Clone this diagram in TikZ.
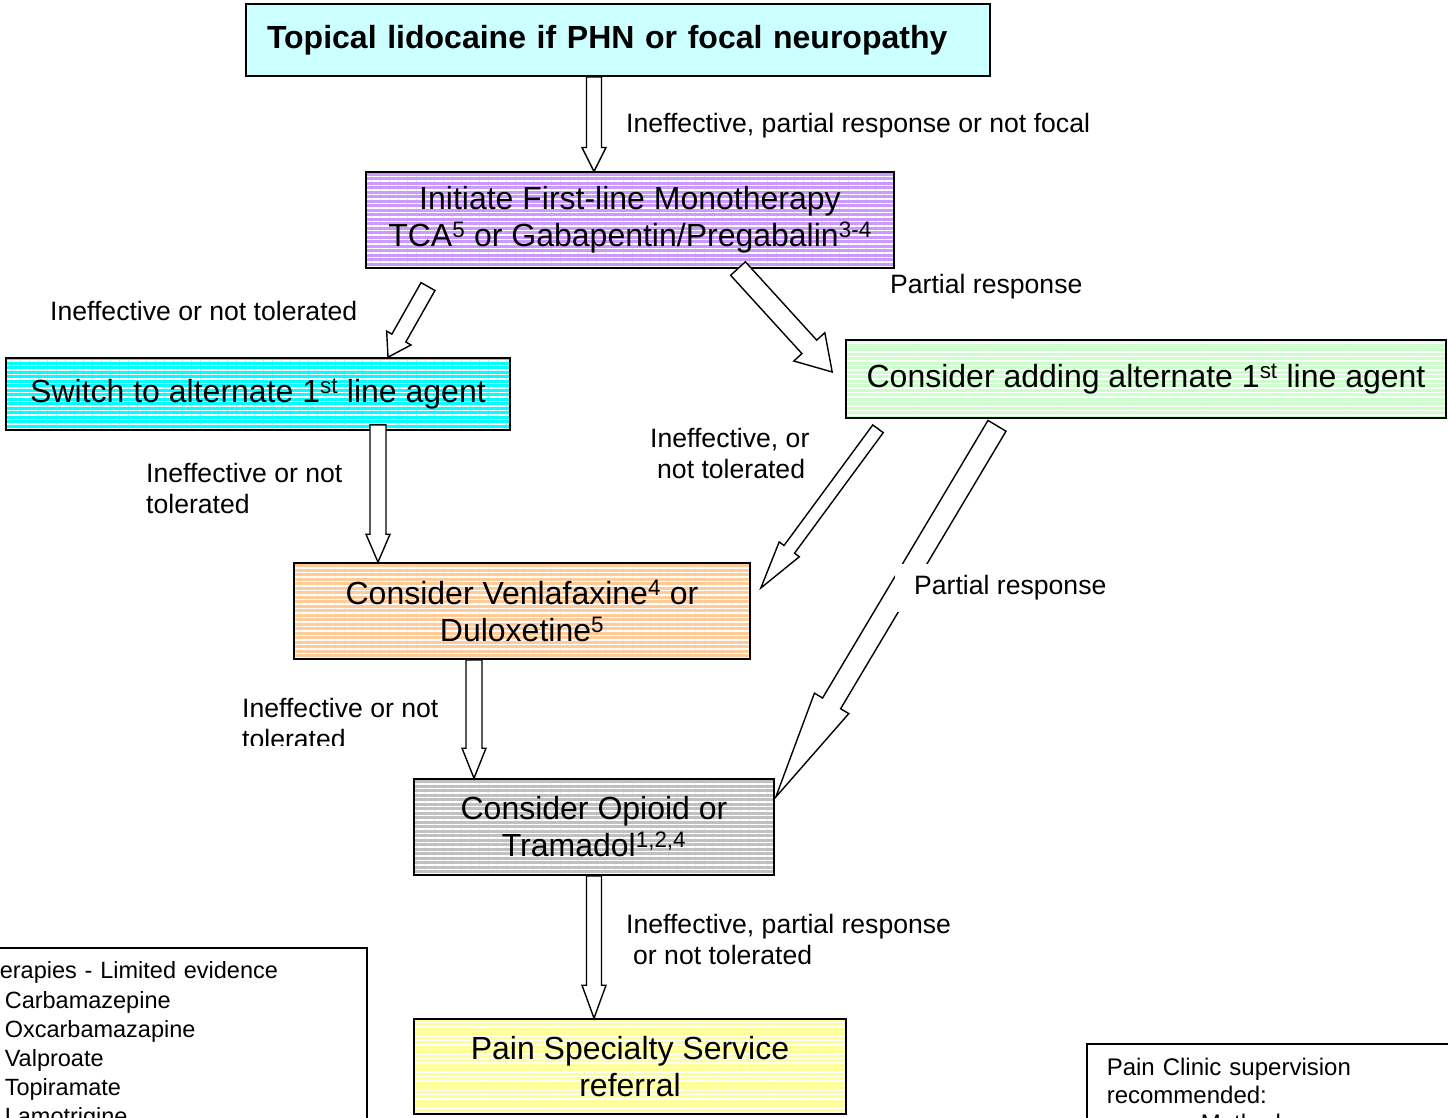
\documentclass[tikz,border=0pt]{standalone}
\usepackage{fontspec}
\setmainfont{Liberation Sans}
\usetikzlibrary{calc,patterns.meta}

\definecolor{lidocyan}{HTML}{CCFFFF}
\definecolor{purplefill}{HTML}{CC99FF}
\definecolor{switchcyan}{HTML}{00FFFF}
\definecolor{addgreen}{HTML}{CCFFCC}
\definecolor{venlaorange}{HTML}{FFCC99}
\definecolor{opioidgray}{HTML}{C0C0C0}
\definecolor{painyellow}{HTML}{FFFF99}

% block arrow: from, to, shaft half width, head half width, head length
\newcommand{\blockarrow}[5]{%
  \draw[block arrow] let \p1=#1, \p2=#2, \n1={atan2(\y2-\y1,\x2-\x1)}, \p3=($(\p2)!#5!(\p1)$) in
    ($(\p1)+(\n1+90:#3)$) -- ($(\p3)+(\n1+90:#3)$) -- ($(\p3)+(\n1+90:#4)$) -- (\p2)
    -- ($(\p3)+(\n1-90:#4)$) -- ($(\p3)+(\n1-90:#3)$) -- ($(\p1)+(\n1-90:#3)$) -- cycle;}

\begin{document}
\begin{tikzpicture}[x=1pt,y=-1pt,
    box font/.style={font=\fontsize{32}{37}\selectfont},
    stripebox/.style={draw, line width=1.6pt, preaction={fill=#1},
      pattern={Lines[angle=0,distance=4.5pt,line width=1.1pt]}, pattern color=white,
      align=center, inner sep=0pt, box font},
    notebox/.style={draw, line width=1.6pt, fill=white, align=left, anchor=north west},
    lbl/.style={font=\fontsize{26.6}{31}\selectfont, inner sep=0pt, anchor=west, align=left},
    block arrow/.style={draw=black, fill=white, line width=1.4pt, line join=miter}]

  \path[use as bounding box, fill=white] (0,0) rectangle (1448,1117);

  % boxes
  \node[draw, line width=1.6pt, fill=lidocyan, text width=702pt, inner xsep=21pt, inner ysep=0pt,
    minimum height=72pt, align=left, font=\fontsize{32}{37}\selectfont\bfseries] (lido) at (618,40)
    {Topical lidocaine if PHN or focal neuropathy};
  \node[stripebox=purplefill, minimum width=528pt, minimum height=96pt] (first) at (630,220)
    {Initiate First-line Monotherapy\\TCA\textsuperscript{5} or Gabapentin/Pregabalin\textsuperscript{3-4}};
  \node[stripebox=switchcyan, minimum width=504pt, minimum height=72pt] (switch) at (258,394)
    {Switch to alternate 1\textsuperscript{st} line agent};
  \node[stripebox=addgreen, minimum width=600pt, minimum height=78pt] (add) at (1146,379)
    {Consider adding alternate 1\textsuperscript{st} line agent};
  \node[stripebox=venlaorange, minimum width=456pt, minimum height=96pt] (venla) at (522,611)
    {Consider Venlafaxine\textsuperscript{4} or\\Duloxetine\textsuperscript{5}};
  \node[stripebox=opioidgray, minimum width=360pt, minimum height=96pt] (opioid) at (594,827)
    {Consider Opioid or\\Tramadol\textsuperscript{1,2,4}};
  \node[stripebox=painyellow, minimum width=432pt, minimum height=95pt] (pain) at (630,1066.5)
    {Pain Specialty Service\\referral};

  \node[notebox, text width=356pt, inner xsep=11pt, inner ysep=14pt,
    font=\fontsize{23.5}{29.2}\selectfont] (other) at (-12,947)
    {erapies - Limited evidence\\
     \hspace*{5pt}Carbamazepine\\
     \hspace*{5pt}Oxcarbamazapine\\
     \hspace*{5pt}Valproate\\
     \hspace*{5pt}Topiramate\\
     \hspace*{5pt}Lamotrigine};
  \node[notebox, text width=340pt, inner xsep=20pt, inner ysep=14.5pt,
    font=\fontsize{24}{28}\selectfont] (clinic) at (1086,1043)
    {Pain Clinic supervision\\
     recommended:\\
     \hspace*{94pt}Methadone};

  % arrows
  \blockarrow{($(lido.south)+(-24,0)$)}{($(first.north)+(-36,0)$)}{7.5pt}{12pt}{24pt}
  \blockarrow{($(first.south)+(-202,18)$)}{($(switch.north)+(130,0)$)}{8pt}{14pt}{22pt}
  \blockarrow{($(first.south)+(108,0)$)}{($(add.west)+(-13,-7)$)}{10pt}{21pt}{34pt}
  \blockarrow{($(switch.south)+(120,-6)$)}{($(venla.north)+(-144,0)$)}{8pt}{12pt}{28pt}
  \blockarrow{($(add.south)+(-268,10)$)}{($(venla.east)+(10,-23)$)}{6.5pt}{12.5pt}{48pt}
  \blockarrow{($(add.south)+(-149,7)$)}{($(opioid.east)+(1,-30)$)}{10.5pt}{20pt}{109pt}
  \blockarrow{($(venla.south)+(-48,0)$)}{($(opioid.north)+(-120,0)$)}{8pt}{12pt}{30pt}
  \blockarrow{(opioid.south)}{($(pain.north)+(-36,0)$)}{7.5pt}{12pt}{33pt}

  % labels
  \node[lbl] (l1) at (626,126) {Ineffective, partial response or not focal};
  \node[lbl] (l2) at (890,287) {Partial response};
  \node[lbl] (l3) at (50,311) {Ineffective or not tolerated};
  \node[lbl] (l4) at (146,488.5) {Ineffective or not\\tolerated};
  \node[lbl] (l5) at (650,453.5) {Ineffective, or\\\hspace*{7pt}not tolerated};
  \node[lbl, fill=white, inner xsep=19pt, minimum height=48pt] (l6) at (895,588) {Partial response};
  \begin{scope}
    \clip (230,690) rectangle (460,745);
    \node[lbl] (l7) at (242,723) {Ineffective or not\\tolerated};
  \end{scope}
  \node[lbl] (l8) at (626,939.5) {Ineffective, partial response\\\hspace*{7pt}or not tolerated};
\end{tikzpicture}
\end{document}
